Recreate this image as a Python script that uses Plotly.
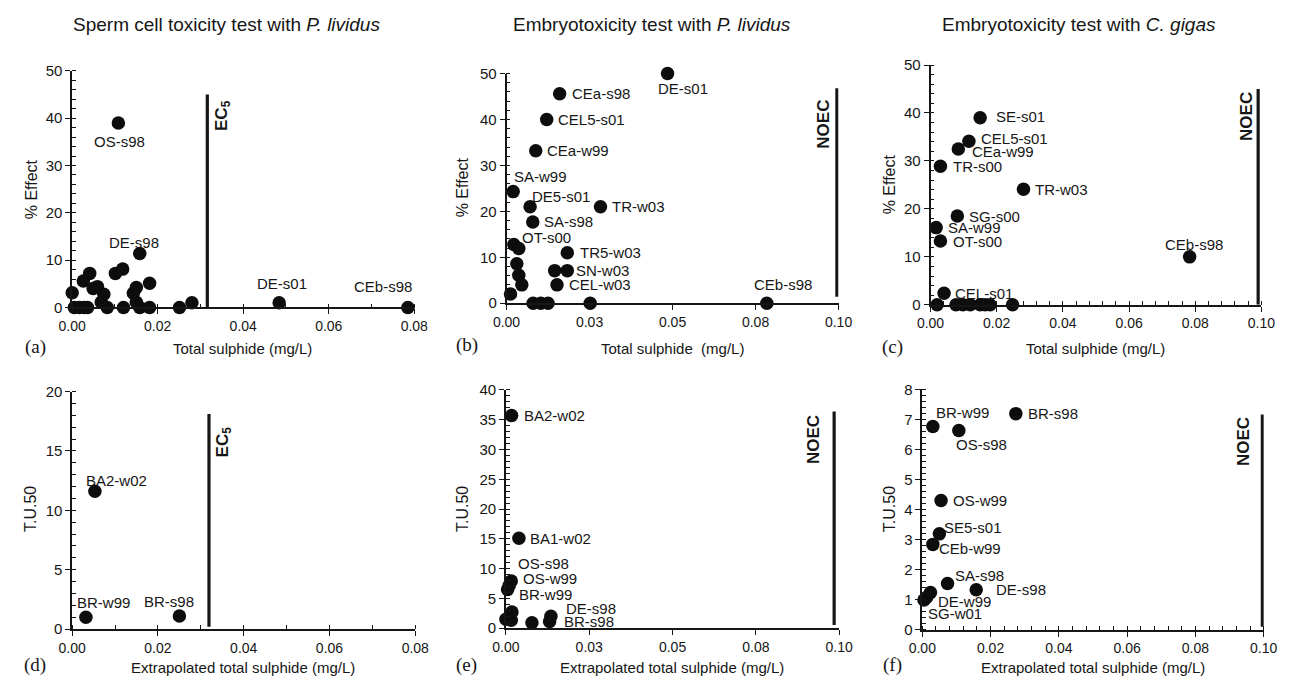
import plotly.graph_objects as go

# page is 1304x686; the browser body keeps its 8px margin, so the figure is 16px smaller
PAGE_W, PAGE_H, BODY = 1304, 686, 8
W, H = PAGE_W - 2 * BODY, PAGE_H - 2 * BODY

# ---------------- data ----------------
# (a) Sperm cell toxicity test with P. lividus
a_x = [0.0108, 0.0158, 0.0484, 0.0785, 0.0000, 0.0026, 0.0041, 0.0049, 0.0059, 0.0074,
       0.0068, 0.0082, 0.0101, 0.0118, 0.0143, 0.0150, 0.0150, 0.0158, 0.0181, 0.0181,
       0.0120, 0.0251, 0.0280, 0.0005, 0.0017, 0.0028, 0.0036]
a_y = [39.0, 11.4, 1.0, 0.0, 3.1, 5.6, 7.2, 4.0, 4.4, 2.8,
       1.1, 0.0, 7.2, 8.1, 3.0, 4.2, 1.1, 0.0, 5.1, 0.0,
       0.0, 0.0, 1.0, 0.0, 0.0, 0.0, 0.0]
a_lab = ["OS-s98", "DE-s98", "DE-s01", "CEb-s98"] + [""] * 23

# (b) Embryotoxicity test with P. lividus
b_x = [0.0485, 0.0160, 0.0121, 0.0088, 0.0020, 0.0071, 0.0283, 0.0079, 0.0022, 0.0037,
       0.0183, 0.0031, 0.0037, 0.0046, 0.0145, 0.0183, 0.0152, 0.0012, 0.0080, 0.0103,
       0.0125, 0.0252, 0.0784]
b_y = [50.0, 45.6, 40.0, 33.2, 24.3, 21.0, 21.0, 17.7, 12.8, 11.9,
       11.0, 8.6, 6.1, 4.0, 7.1, 7.1, 4.0, 2.0, 0.0, 0.0,
       0.0, 0.0, 0.0]
b_lab = ["DE-s01", "CEa-s98", "CEL5-s01", "CEa-w99", "SA-w99", "DE5-s01", "TR-w03", "SA-s98", "", "OT-s00",
         "TR5-w03", "", "", "", "", "SN-w03", "CEL-w03", "", "", "",
         "", "", "CEb-s98"]

# (c) Embryotoxicity test with C. gigas
c_x = [0.0150, 0.0116, 0.0084, 0.0030, 0.0281, 0.0081, 0.0017, 0.0030, 0.0783, 0.0041,
       0.0020, 0.0077, 0.0098, 0.0120, 0.0150, 0.0165, 0.0180, 0.0248]
c_y = [39.0, 34.1, 32.5, 28.9, 24.1, 18.5, 16.1, 13.3, 10.0, 2.4,
       0.0, 0.0, 0.0, 0.0, 0.0, 0.0, 0.0, 0.0]
c_lab = ["SE-s01", "CEL5-s01", "CEa-w99", "TR-s00", "TR-w03", "SG-s00", "SA-w99", "OT-s00", "CEb-s98", "CEL-s01",
         "", "", "", "", "", "", "", ""]

# (d) Sperm cell - extrapolated
d_x = [0.0053, 0.0032, 0.0250]
d_y = [11.6, 1.0, 1.1]
d_lab = ["BA2-w02", "BR-w99", "BR-s98"]

# (e) Embryotoxicity P. lividus - extrapolated
e_x = [0.0017, 0.0039, 0.0016, 0.0010, 0.0005, 0.0018, 0.0000, 0.0016, 0.0078, 0.0135, 0.0131]
e_y = [35.7, 15.1, 7.9, 7.2, 6.5, 2.7, 1.5, 1.3, 0.9, 2.0, 1.1]
e_lab = ["BA2-w02", "BA1-w02", "OS-s98", "OS-w99", "BR-w99", "", "", "", "", "DE-s98", "BR-s98"]

# (f) Embryotoxicity C. gigas - extrapolated
f_x = [0.0031, 0.0274, 0.0107, 0.0055, 0.0050, 0.0031, 0.0074, 0.0158, 0.0024, 0.0005, 0.0013]
f_y = [6.76, 7.19, 6.63, 4.30, 3.19, 2.84, 1.54, 1.33, 1.24, 0.99, 1.08]
f_lab = ["BR-w99", "BR-s98", "OS-s98", "OS-w99", "SE5-s01", "CEb-w99", "SA-s98", "DE-s98", "DE-w99", "SG-w01", ""]

# threshold lines (x value, y start, y end)
thr_a = [0.0316, 0.0, 45.0]
thr_b = [0.0995, 1.4, 46.8]
thr_c = [0.0990, 0.0, 45.0]
thr_d = [0.0319, 0.2, 18.1]
thr_e = [0.0985, 0.5, 36.4]
thr_f = [0.0996, 0.1, 7.16]

# tick labels
x_ticks_008 = [0.0, 0.02, 0.04, 0.06, 0.08]
x_text_008 = ["0.00", "0.02", "0.04", "0.06", "0.08"]
x_ticks_010q = [0.0, 0.025, 0.05, 0.075, 0.10]
x_text_010q = ["0.00", "0.03", "0.05", "0.08", "0.10"]
x_ticks_010 = [0.0, 0.02, 0.04, 0.06, 0.08, 0.10]
x_text_010 = ["0.00", "0.02", "0.04", "0.06", "0.08", "0.10"]

titles = ["Sperm cell toxicity test with <i>P. lividus</i>",
          "Embryotoxicity test with <i>P. lividus</i>",
          "Embryotoxicity test with <i>C. gigas</i>"]

# ---------------- label offsets (px, label centre relative to point) ----------------
off_a = {"OS-s98": (1, 19), "DE-s98": (-6, -11), "DE-s01": (3, -19), "CEb-s98": (-25, -21)}
off_b = {"DE-s01": (15, 15), "CEa-s98": (41, 0), "CEL5-s01": (45, 0), "CEa-w99": (42, 0),
         "SA-w99": (27, -15), "DE5-s01": (31, -10), "TR-w03": (38, 0), "SA-s98": (36, 0),
         "OT-s00": (28, -11), "TR5-w03": (43, 0), "SN-w03": (35, 0), "CEL-w03": (43, 0),
         "CEb-s98": (16, -19)}
off_c = {"SE-s01": (40, -1), "CEL5-s01": (46, -3), "CEa-w99": (45, 3), "TR-s00": (37, 0),
         "TR-w03": (38, 0), "SG-s00": (37, 0), "SA-w99": (38, 0), "OT-s00": (37, 0),
         "CEb-s98": (4, -12), "CEL-s01": (40, 0)}
off_d = {"BA2-w02": (22, -11), "BR-w99": (18, -15), "BR-s98": (-10, -14)}
off_e = {"BA2-w02": (43, 0), "BA1-w02": (42, 0), "OS-s98": (32, -18), "OS-w99": (41, -7),
         "BR-w99": (38, 5), "DE-s98": (40, -8), "BR-s98": (39, 0)}
off_f = {"BR-w99": (30, -14), "BR-s98": (37, 0), "OS-s98": (23, 14), "OS-w99": (39, 0),
         "SE5-s01": (34, -6), "CEb-w99": (37, 4), "SA-s98": (32, -8), "DE-s98": (45, 0),
         "DE-w99": (34, 9), "SG-w01": (31, 14)}

FONT = "Liberation Sans, Arial, sans-serif"
SERIF = "Liberation Serif, Times New Roman, serif"
INK = "#161616"


def px(x):
    return (x - BODY) / W


def py(y):
    return 1 - (y - BODY) / H


# panel plot areas in page pixels (left, right, top, bottom)
boxes = [(59.3, 409.0, 63.3, 306.0),
         (503.3, 842.7, 66.0, 301.7),
         (936.7, 1275.0, 57.3, 303.3),
         (59.3, 410.0, 392.3, 636.0),
         (502.7, 843.3, 390.7, 635.0),
         (928.3, 1277.3, 390.0, 636.7)]

panels = [
    dict(x=a_x, y=a_y, lab=a_lab, off=off_a, thr=thr_a, xr=[0, 0.08], yr=[0, 50],
         xt=(x_ticks_008, x_text_008), xminor=0.01, ydt=10, yminor=2,
         xtitle="Total sulphide (mg/L)", ytitle="% Effect", tag="(a)",
         thr_text="EC<sub>5</sub>", thr_pos=(213.3, 108.7)),
    dict(x=b_x, y=b_y, lab=b_lab, off=off_b, thr=thr_b, xr=[0, 0.10], yr=[0, 50],
         xt=(x_ticks_010q, x_text_010q), xminor=None, ydt=10, yminor=2,
         xtitle="Total sulphide  (mg/L)", ytitle="% Effect", tag="(b)",
         thr_text="NOEC", thr_pos=(827.3, 118.0)),
    dict(x=c_x, y=c_y, lab=c_lab, off=off_c, thr=thr_c, xr=[0, 0.10], yr=[0, 50],
         xt=(x_ticks_010, x_text_010), xminor=0.004, ydt=10, yminor=2,
         xtitle="Total sulphide (mg/L)", ytitle="% Effect", tag="(c)",
         thr_text="NOEC", thr_pos=(1259.0, 109.7)),
    dict(x=d_x, y=d_y, lab=d_lab, off=off_d, thr=thr_d, xr=[0, 0.08], yr=[0, 20],
         xt=(x_ticks_008, x_text_008), xminor=0.01, ydt=5, yminor=1,
         xtitle="Extrapolated total sulphide (mg/L)", ytitle="T.U.50", tag="(d)",
         thr_text="EC<sub>5</sub>", thr_pos=(214.0, 444.0)),
    dict(x=e_x, y=e_y, lab=e_lab, off=off_e, thr=thr_e, xr=[0, 0.10], yr=[0, 40],
         xt=(x_ticks_010q, x_text_010q), xminor=None, ydt=5, yminor=1,
         xtitle="Extrapolated total sulphide (mg/L)", ytitle="T.U.50", tag="(e)",
         thr_text="NOEC", thr_pos=(817.7, 442.0)),
    dict(x=f_x, y=f_y, lab=f_lab, off=off_f, thr=thr_f, xr=[0, 0.10], yr=[0, 8],
         xt=(x_ticks_010, x_text_010), xminor=0.004, ydt=1, yminor=0.2,
         xtitle="Extrapolated total sulphide (mg/L)", ytitle="T.U.50", tag="(f)",
         thr_text="NOEC", thr_pos=(1257.3, 444.0)),
]

xtitle_pos = [(233, 348), (673.3, 348.3), (1105, 348.3), (234, 675), (672.3, 675), (1102.3, 675)]
ytitle_pos = [(18, 185), (458.3, 183.3), (895, 180), (16.7, 513.3), (458.3, 513.3), (895, 513.3)]
tag_pos = [(21.7, 346.7), (462.7, 345), (898.3, 346.7), (21.7, 673.3), (462.7, 673.3), (898.3, 672.7)]
title_pos = [(217, 16), (651.7, 16), (1088, 16)]

fig = go.Figure()
annotations = []
layout = dict(
    width=W, height=H, autosize=False,
    margin=dict(l=0, r=0, t=0, b=0),
    paper_bgcolor="white", plot_bgcolor="white",
    showlegend=False,
    font=dict(family=FONT, color=INK, size=14),
)

for i, p in enumerate(panels):
    n = i + 1
    xa = "x" if n == 1 else f"x{n}"
    ya = "y" if n == 1 else f"y{n}"
    l, r, t, b = boxes[i]

    # threshold line
    thr = p["thr"]
    fig.add_trace(go.Scatter(x=[thr[0], thr[0]], y=[thr[1], thr[2]], mode="lines",
                             line=dict(color=INK, width=3.2), xaxis=xa, yaxis=ya,
                             hoverinfo="skip", cliponaxis=False))
    # points
    fig.add_trace(go.Scatter(x=p["x"], y=p["y"], mode="markers",
                             marker=dict(size=13.5, color="#0d0d0d", line=dict(width=0)),
                             xaxis=xa, yaxis=ya, cliponaxis=False))
    # point labels
    for xv, yv, lab in zip(p["x"], p["y"], p["lab"]):
        if not lab:
            continue
        dx, dy = p["off"][lab]
        annotations.append(dict(x=xv, y=yv, xref=xa, yref=ya, text=lab, showarrow=False,
                                xanchor="center", yanchor="middle", xshift=dx, yshift=-dy,
                                font=dict(size=15, family=FONT, color=INK)))

    xkey = "xaxis" if n == 1 else f"xaxis{n}"
    ykey = "yaxis" if n == 1 else f"yaxis{n}"
    xaxis = dict(domain=[px(l), px(r)], range=p["xr"], anchor=ya,
                 showgrid=False, zeroline=False, showline=True, linecolor=INK, linewidth=1.6,
                 ticks="outside", ticklen=5, tickwidth=1.4, tickcolor=INK,
                 tickmode="array", tickvals=p["xt"][0], ticktext=p["xt"][1],
                 tickfont=dict(size=14, family=FONT, color=INK), fixedrange=True)
    if p["xminor"]:
        xaxis["minor"] = dict(dtick=p["xminor"], tick0=0, ticks="inside", ticklen=4,
                              tickwidth=1.2, tickcolor=INK, showgrid=False)
    yaxis = dict(domain=[py(b), py(t)], range=p["yr"], anchor=xa,
                 showgrid=False, zeroline=False, showline=True, linecolor=INK, linewidth=1.6,
                 ticks="outside", ticklen=5, tickwidth=1.4, tickcolor=INK,
                 dtick=p["ydt"], tick0=0,
                 tickfont=dict(size=15, family=FONT, color=INK), fixedrange=True,
                 minor=dict(dtick=p["yminor"], tick0=0, ticks="inside", ticklen=4,
                            tickwidth=1.2, tickcolor=INK, showgrid=False))
    layout[xkey] = xaxis
    layout[ykey] = yaxis

    # axis titles
    xx, yy = xtitle_pos[i]
    annotations.append(dict(x=px(xx), y=py(yy), xref="paper", yref="paper", text=p["xtitle"],
                            showarrow=False, xanchor="center", yanchor="middle",
                            font=dict(size=15, family=FONT, color=INK)))
    xx, yy = ytitle_pos[i]
    annotations.append(dict(x=px(xx), y=py(yy), xref="paper", yref="paper", text=p["ytitle"],
                            showarrow=False, xanchor="center", yanchor="middle", textangle=-90,
                            font=dict(size=16, family=FONT, color=INK)))
    xx, yy = tag_pos[i]
    annotations.append(dict(x=px(xx), y=py(yy), xref="paper", yref="paper", text=p["tag"],
                            showarrow=False, xanchor="center", yanchor="middle",
                            font=dict(size=19, family=SERIF, color=INK)))
    xx, yy = p["thr_pos"]
    annotations.append(dict(x=px(xx), y=py(yy), xref="paper", yref="paper",
                            text="<b>" + p["thr_text"] + "</b>",
                            showarrow=False, xanchor="center", yanchor="middle", textangle=-90,
                            font=dict(size=17, family=FONT, color=INK)))

for i, ttl in enumerate(titles):
    xx, yy = title_pos[i]
    annotations.append(dict(x=px(xx), y=py(yy), xref="paper", yref="paper", text=ttl,
                            showarrow=False, xanchor="center", yanchor="middle",
                            font=dict(size=19, family=FONT, color=INK)))

layout["annotations"] = annotations
fig.update_layout(**layout)

fig.write_html("out.html", config={"displayModeBar": False})
